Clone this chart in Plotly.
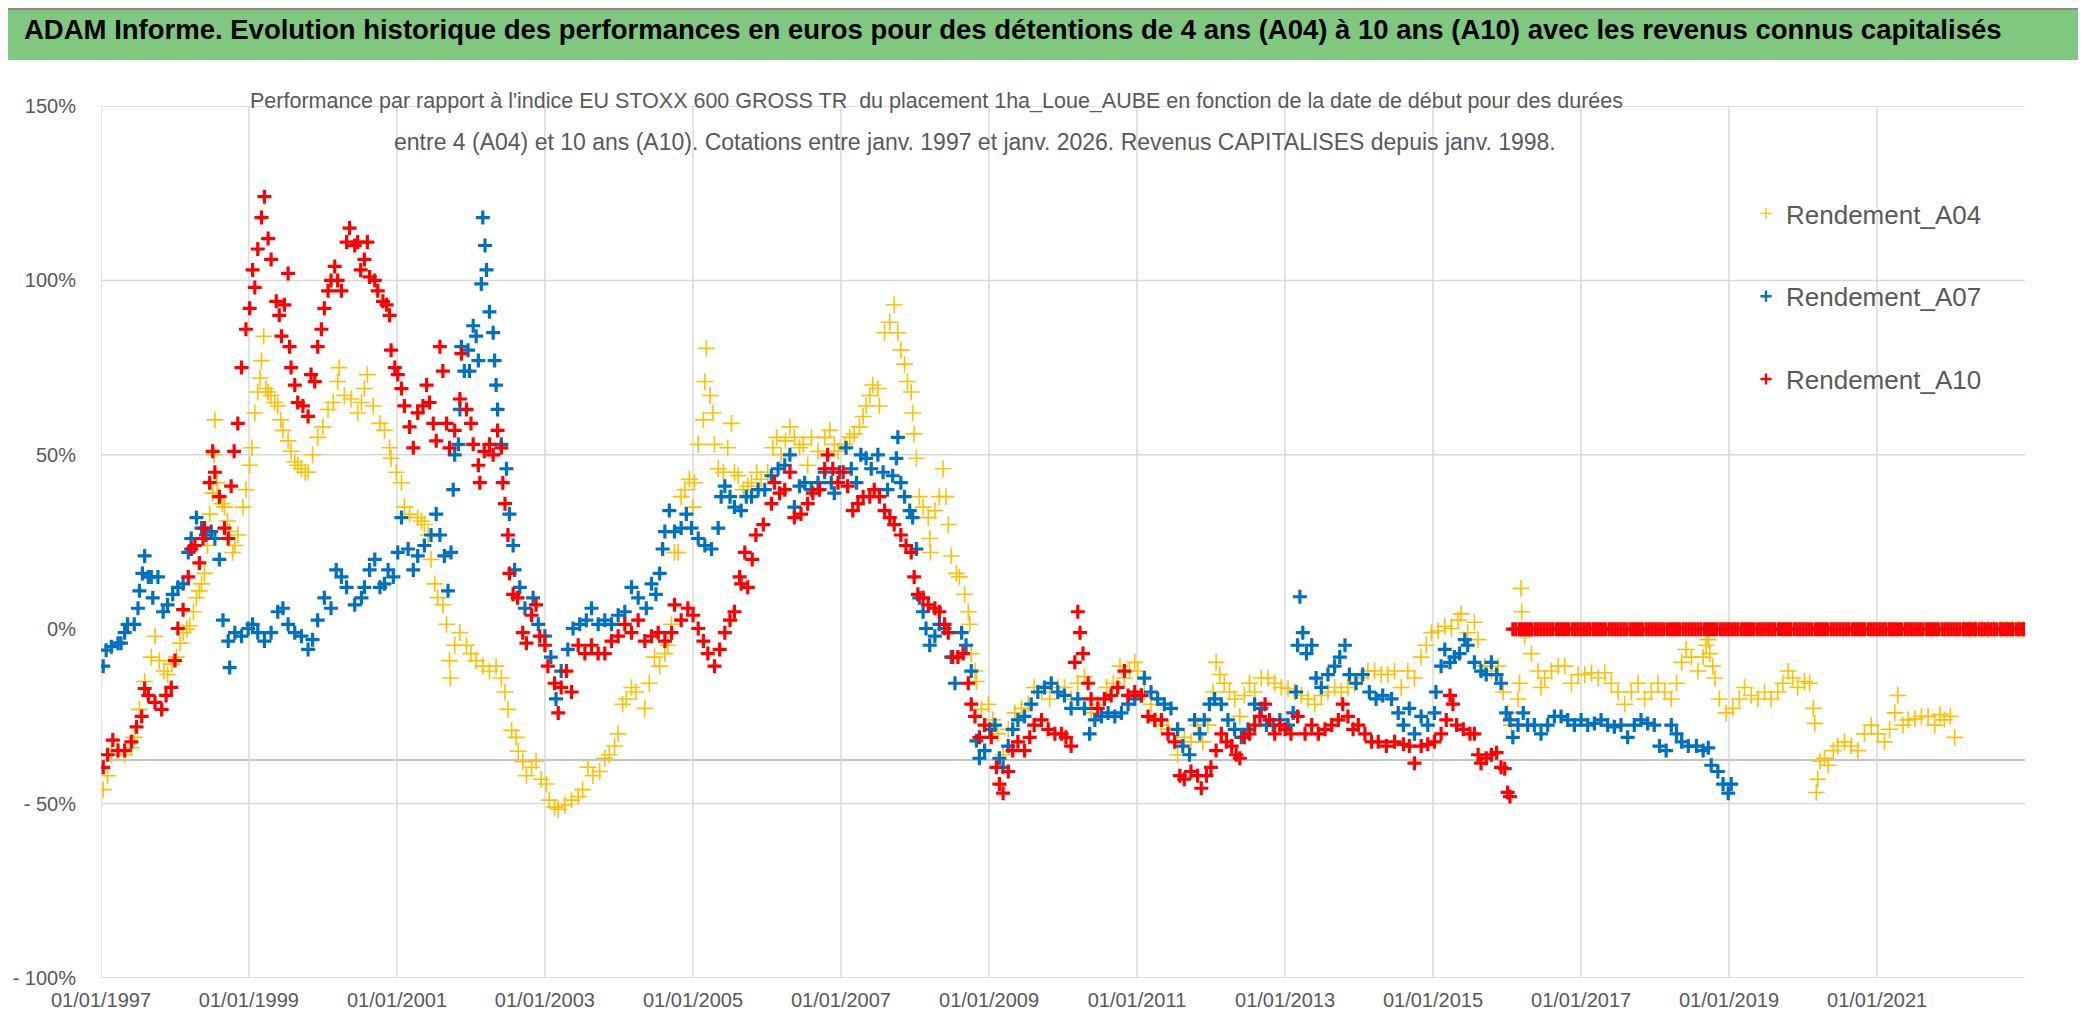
import pandas as pd
import plotly.graph_objects as go

# ---------------- data (decimal year, performance in %) ----------------
A04_YEARS = [1997.03,1997.09,1997.14,1997.23,1997.32,1997.41,1997.45,1997.52,1997.59,1997.68,1997.73,1997.79,1997.85,1997.9,1997.96,
 1998.02,1998.07,1998.11,1998.16,1998.2,1998.25,1998.29,1998.33,1998.36,1998.4,1998.44,1998.47,1998.51,1998.53,1998.54,1998.57,1998.6,
 1998.64,1998.67,1998.71,1998.74,1998.78,1998.81,1998.85,1998.92,1998.96,1999.01,1999.04,1999.08,1999.12,1999.15,1999.17,1999.2,1999.23,
 1999.26,1999.3,1999.35,1999.39,1999.43,1999.46,1999.53,1999.57,1999.62,1999.66,1999.71,1999.76,1999.8,1999.86,1999.93,2000.0,2000.07,
 2000.14,2000.2,2000.22,2000.29,2000.38,2000.47,2000.52,2000.56,2000.6,2000.68,2000.77,2000.83,2000.9,2000.92,2000.99,2001.06,2001.1,
 2001.17,2001.28,2001.33,2001.37,2001.42,2001.46,2001.51,2001.55,2001.62,2001.67,2001.71,2001.72,2001.78,2001.85,2001.94,2002.0,2002.07,
 2002.16,2002.25,2002.34,2002.41,2002.46,2002.5,2002.55,2002.61,2002.64,2002.7,2002.75,2002.82,2002.88,2002.95,2003.02,2003.06,2003.13,
 2003.18,2003.27,2003.36,2003.45,2003.51,2003.58,2003.65,2003.74,2003.81,2003.87,2003.94,2003.99,2004.05,2004.1,2004.17,2004.23,2004.35,
 2004.41,2004.48,2004.55,2004.62,2004.66,2004.71,2004.75,2004.8,2004.84,2004.89,2004.95,2005.0,2005.02,2005.07,2005.14,2005.16,2005.18,
 2005.23,2005.27,2005.29,2005.34,2005.41,2005.47,2005.52,2005.56,2005.61,2005.68,2005.74,2005.79,2005.86,2005.92,2006.01,2006.08,2006.13,
 2006.19,2006.25,2006.31,2006.37,2006.44,2006.49,2006.55,2006.6,2006.69,2006.78,2006.85,2006.91,2006.96,2007.05,2007.12,2007.18,2007.25,
 2007.3,2007.34,2007.39,2007.43,2007.5,2007.52,2007.59,2007.66,2007.72,2007.77,2007.81,2007.86,2007.9,2007.95,2007.97,2007.99,2008.02,
 2008.06,2008.11,2008.18,2008.2,2008.21,2008.27,2008.33,2008.38,2008.42,2008.45,2008.49,2008.56,2008.6,2008.67,2008.72,2008.74,2008.76,
 2008.81,2008.83,2008.9,2008.99,2009.05,2009.12,2009.19,2009.26,2009.35,2009.44,2009.53,2009.61,2009.71,2009.82,2009.93,2010.02,2010.11,
 2010.2,2010.29,2010.38,2010.47,2010.59,2010.68,2010.77,2010.83,2010.9,2010.97,2011.01,2011.1,2011.19,2011.26,2011.33,2011.42,2011.55,
 2011.64,2011.73,2011.82,2011.89,2011.96,2012.03,2012.07,2012.12,2012.18,2012.25,2012.32,2012.39,2012.45,2012.52,2012.59,2012.68,2012.77,
 2012.86,2012.95,2013.04,2013.13,2013.22,2013.31,2013.4,2013.49,2013.58,2013.67,2013.76,2013.85,2013.94,2014.03,2014.12,2014.21,2014.3,
 2014.39,2014.48,2014.57,2014.66,2014.75,2014.84,2014.91,2014.98,2015.07,2015.16,2015.25,2015.34,2015.38,2015.47,2015.56,2015.61,2015.7,
 2015.79,2015.88,2015.95,2016.01,2016.06,2016.15,2016.17,2016.19,2016.2,2016.24,2016.33,2016.42,2016.46,2016.51,2016.6,2016.69,2016.78,
 2016.87,2016.96,2017.05,2017.14,2017.23,2017.32,2017.41,2017.5,2017.59,2017.68,2017.77,2017.86,2017.95,2018.04,2018.13,2018.22,2018.29,
 2018.36,2018.42,2018.49,2018.58,2018.65,2018.69,2018.72,2018.74,2018.78,2018.81,2018.87,2018.96,2019.05,2019.14,2019.21,2019.3,2019.39,
 2019.48,2019.57,2019.66,2019.73,2019.8,2019.86,2019.93,2020.02,2020.09,2020.14,2020.16,2020.18,2020.2,2020.23,2020.29,2020.34,2020.41,
 2020.47,2020.56,2020.65,2020.74,2020.83,2020.92,2021.01,2021.1,2021.17,2021.24,2021.28,2021.35,2021.42,2021.51,2021.6,2021.69,2021.78,
 2021.85,2021.91,2021.99,2022.05,
 2022.17,2022.25,2022.33,2022.42,2022.5,2022.58,2022.67,2022.75,2022.83,2022.92,2022.98]
A04_VALUES = [-46,-42,-36,-35,-36,-34,-31,-23,-15,-8,-2,-9,-12,-13,-10,
 -8,-4,-1,0,1,5,9,11,13,16,24,33,39,50,60,42,38,
 36,35,31,28,22,24,27,35,40,47,52,62,68,72,77,84,69,
 68,67,65,64,60,57,54,51,48,47,46,45,45,50,55,58,63,
 65,71,75,67,66,62,65,69,73,64,59,57,52,49,45,42,35,
 33,32,31,30,27,20,13,9,7,1.4,-9,-14,-4.6,-1,-4.6,-7,-9,
 -10.6,-12,-10.6,-14,-18,-23,-29,-31,-35,-38,-42,-39.6,-37.8,-43,-44.4,-49,-51,
 -51.6,-50.4,-49,-48,-46,-39.6,-42,-40.8,-37,-36,-33.5,-30,-21.5,-20,-16.7,-18,-22.7,
 -15.5,-8,-10.6,-7,-4.6,1.4,22,22,38,40,43,35,42,53,60,71,80.5,
 67,62,53,46,45,52,59,45,44,40,41,42,45,43,45,52,55,
 50,54,58,55,52,53,47,55,51,55,57,53,51,53,55,56,58,
 61,64,67,70,69,64,85,88,93,85,80,76,71,68,62,56,49,
 38,35,32,26,22,34,38,46,38,30,21,16,15,10,5,1.4,-7,
 -12,-15,-23,-21.5,-26,-30,-36,-28.7,-24,-22.7,-21.5,-16.7,-18,-20,-16.7,-16.7,-20,
 -15.5,-13.6,-24,-21.5,-16.7,-15.5,-10.6,-14,-12,-9.5,-12,-18,-21.5,-26,-27.5,-28.7,-36,
 -31,-32.3,-27.5,-32.3,-27.5,-18,-9.5,-13,-15.5,-18,-20,-25,-19,-15.5,-18,-14,-14,
 -15.5,-16.7,-17,-18,-19,-20,-21.5,-19,-18,-16.7,-18,-16.7,-15.5,-14,-12,-12,-13,
 -13,-12,-16.7,-12,-14,-8,-4.6,-1,-0.5,0.8,0.2,2.6,4.4,-1,2,-3,-10.6,
 -12,-10.6,-18,-24,-27.5,-20,-15.5,11.7,5,-2,-7,-12,-16.7,-14,-12,-10.6,-10.6,
 -15.5,-13,-13,-12.5,-14,-12.5,-15.5,-18,-21.5,-18,-15.5,-20,-18,-15.5,-18,-20,-15.5,
 -9.5,-5.8,-8,-12,-8,-4.6,-3,-7,-10.6,-14,-20,-24,-22.7,-20,-16.7,-19,-20,
 -18,-20,-18,-15.5,-12,-14,-16.7,-15,-15.5,-22.7,-27,-46.8,-43,-37.8,-37,-39,-34.8,
 -33.5,-32.3,-33.5,-34.8,-30,-27.5,-30,-32.3,-28.7,-24,-19,-27.5,-26,-25.7,-25,-25,-27.5,
 -24.5,-26,-25,-31,
 0,0,0,0,0,0,0,0,0,0,0]

A07_YEARS = [1997.03,1997.07,1997.14,1997.23,1997.27,1997.32,1997.36,1997.45,1997.5,1997.52,1997.56,1997.59,1997.64,1997.68,1997.7,
 1997.77,1997.84,1997.9,1997.97,1998.04,1998.11,1998.18,1998.22,1998.29,1998.36,1998.42,1998.49,1998.54,1998.6,1998.65,1998.72,1998.74,
 1998.81,1998.9,1998.99,1999.05,1999.12,1999.21,1999.3,1999.39,1999.46,1999.53,1999.62,1999.71,1999.8,1999.86,1999.93,2000.02,2000.11,
 2000.18,2000.25,2000.32,2000.43,2000.52,2000.56,2000.63,2000.7,2000.77,2000.83,2000.88,2000.95,2001.01,2001.06,2001.15,2001.22,2001.28,
 2001.37,2001.46,2001.53,2001.58,2001.64,2001.69,2001.73,2001.76,2001.78,2001.83,2001.85,2001.87,2001.91,2001.96,2001.98,2002.03,2002.07,
 2002.1,2002.14,2002.16,2002.19,2002.21,2002.25,2002.3,2002.32,2002.34,2002.36,2002.41,2002.48,2002.52,2002.57,2002.59,2002.66,2002.73,
 2002.84,2002.91,2003.0,2003.08,2003.15,2003.22,2003.31,2003.38,2003.47,2003.56,2003.63,2003.72,2003.81,2003.9,2003.99,2004.08,2004.17,
 2004.26,2004.37,2004.44,2004.5,2004.55,2004.59,2004.62,2004.68,2004.75,2004.84,2004.91,2004.98,2005.07,2005.16,2005.25,2005.34,2005.38,
 2005.43,2005.5,2005.56,2005.65,2005.72,2005.79,2005.88,2005.97,2006.06,2006.15,2006.24,2006.31,2006.37,2006.44,2006.51,2006.6,2006.69,
 2006.78,2006.87,2006.91,2006.98,2007.07,2007.14,2007.21,2007.27,2007.34,2007.41,2007.5,2007.57,2007.63,2007.7,2007.75,2007.77,2007.81,
 2007.86,2007.93,2007.97,2008.02,2008.06,2008.11,2008.15,2008.2,2008.27,2008.33,2008.4,2008.49,2008.54,2008.63,2008.69,2008.76,2008.83,
 2008.87,2008.94,2009.01,2009.08,2009.14,2009.19,2009.26,2009.32,2009.39,2009.48,2009.57,2009.66,2009.75,2009.84,2009.93,2010.02,2010.11,
 2010.2,2010.29,2010.36,2010.43,2010.52,2010.61,2010.7,2010.79,2010.88,2010.97,2011.06,2011.1,2011.19,2011.28,2011.37,2011.46,2011.55,
 2011.62,2011.71,2011.78,2011.85,2011.91,2011.98,2012.05,2012.14,2012.23,2012.32,2012.41,2012.5,2012.59,2012.68,2012.75,2012.84,2012.93,
 2013.04,2013.11,2013.15,2013.17,2013.2,2013.24,2013.29,2013.36,2013.42,2013.49,2013.58,2013.67,2013.74,2013.81,2013.87,2013.96,2014.05,
 2014.14,2014.23,2014.32,2014.44,2014.53,2014.6,2014.68,2014.75,2014.84,2014.93,2015.02,2015.04,2015.11,2015.16,2015.23,2015.29,2015.36,
 2015.43,2015.47,2015.56,2015.65,2015.72,2015.79,2015.86,2015.92,2015.99,2016.04,2016.08,2016.15,2016.22,2016.28,2016.37,2016.46,2016.55,
 2016.64,2016.73,2016.82,2016.91,2017.0,2017.09,2017.18,2017.27,2017.36,2017.45,2017.54,2017.63,2017.72,2017.81,2017.9,2017.99,2018.06,
 2018.15,2018.22,2018.29,2018.36,2018.45,2018.56,2018.65,2018.72,2018.76,2018.85,2018.92,2018.99,2019.03]
A07_VALUES = [-10.6,-6,-5,-4,-4,-1,1.4,1.4,6,11,16,21,15,15,9,
 15,5,7,10,12,13,22,26,32,29,27,28,26,20,2.6,-3.4,-11,
 -1,-2,0.2,1.4,-1,-3.4,-1,5,6,1.4,-1,-2,-5.8,-3,2.6,9,6,
 17,15,12,7,9,12,17,20,12,13,17,15,22,32,23,17,21,
 24,27,33,27,21,11,22,40,50,53,63,81,74,80,74,87,84,
 77,99,118,110,103,91,85,77,70,63,53,46,33,24,17,12,6,
 9,1.4,-2,-8,-20,-12,-5.8,0.2,1.4,2.6,6,1.4,2.6,1.4,4,5,12,
 9,6,13,10,16,23,28,34,28,29,33,29,26,24,23,29,38,
 41,38,35,34,38,38,40,40,44,46,47,50,35,41,42,40,42,
 45,42,39,45,52,46,42,50,49,46,50,45,40,44,49,55,42,
 38,34,32,23,9,5,0.2,-4.6,-2,1.4,0.2,-8,-15.5,-1,-4.6,-12,-32,
 -37,-34.8,-28.7,-27.5,-37,-39.6,-33.5,-28.7,-26,-25,-21.5,-18,-16.7,-15.5,-18,-19,-22.7,
 -20,-22.7,-30,-26,-25,-24,-25,-24,-21.5,-20,-19,-14,-18,-20,-21.5,-22.7,-28.7,
 -33.5,-36,-26,-30,-26,-21.5,-20,-21.5,-26,-28.7,-31,-28.7,-21.5,-22.7,-27.5,-27.5,-26,
 -27.5,-24,-18,-4.6,9.3,-1,-7,-4.6,-14,-16.7,-13,-10.6,-8,-4.6,-13,-15.5,-13,
 -18,-20,-19,-20,-24,-27.5,-22.7,-30,-25,-27.5,-24,-18,-10.6,-5.8,-9.5,-8,-7,
 -3,-4.6,-9.5,-12,-13,-9.5,-13,-15.5,-24,-26,-31,-27.5,-24,-27.5,-27.5,-30,-27.5,
 -25,-25,-26,-27.5,-26,-27.5,-27,-26,-27.5,-28,-27.5,-31,-27.5,-26,-27,-27.5,-33.5,
 -34.8,-27.5,-30,-32.3,-33.5,-33.5,-34.8,-34,-39,-40.8,-44.4,-47,-44.4]

A10_YEARS = [1997.03,1997.09,1997.16,1997.23,1997.32,1997.41,1997.48,1997.55,1997.59,1997.64,1997.73,1997.82,1997.88,1997.95,1998.0,
 1998.04,1998.11,1998.18,1998.22,1998.27,1998.33,1998.38,1998.4,1998.47,1998.51,1998.54,1998.6,1998.67,1998.72,1998.76,1998.8,1998.85,
 1998.9,1998.96,1999.01,1999.05,1999.08,1999.12,1999.17,1999.21,1999.26,1999.3,1999.37,1999.41,1999.44,1999.48,1999.53,1999.55,1999.57,
 1999.62,1999.66,1999.73,1999.8,1999.84,1999.89,1999.93,1999.98,2000.02,2000.07,2000.11,2000.16,2000.2,2000.25,2000.32,2000.36,2000.43,
 2000.47,2000.51,2000.56,2000.6,2000.63,2000.7,2000.74,2000.81,2000.86,2000.9,2000.92,2000.97,2001.01,2001.06,2001.1,2001.17,2001.22,
 2001.28,2001.35,2001.4,2001.44,2001.49,2001.53,2001.58,2001.62,2001.67,2001.71,2001.78,2001.85,2001.87,2001.94,2002.0,2002.03,2002.1,
 2002.12,2002.18,2002.25,2002.3,2002.36,2002.41,2002.43,2002.46,2002.5,2002.52,2002.57,2002.63,2002.7,2002.75,2002.82,2002.88,2002.93,
 2003.0,2003.04,2003.13,2003.18,2003.22,2003.29,2003.36,2003.45,2003.54,2003.63,2003.72,2003.81,2003.9,2003.99,2004.08,2004.17,2004.26,
 2004.35,2004.44,2004.53,2004.62,2004.71,2004.75,2004.84,2004.93,2005.0,2005.07,2005.14,2005.2,2005.29,2005.36,2005.43,2005.5,2005.56,
 2005.63,2005.65,2005.7,2005.74,2005.8,2005.85,2005.95,2006.06,2006.1,2006.17,2006.24,2006.31,2006.37,2006.46,2006.55,2006.62,2006.71,
 2006.78,2006.82,2006.89,2006.96,2007.03,2007.09,2007.16,2007.23,2007.3,2007.39,2007.45,2007.52,2007.59,2007.66,2007.72,2007.81,2007.88,
 2007.95,2007.99,2008.04,2008.11,2008.18,2008.27,2008.33,2008.4,2008.45,2008.51,2008.58,2008.65,2008.72,2008.76,2008.81,2008.87,2008.94,
 2009.03,2009.1,2009.14,2009.19,2009.26,2009.32,2009.39,2009.48,2009.55,2009.61,2009.71,2009.8,2009.89,2009.98,2010.04,2010.11,2010.16,
 2010.2,2010.23,2010.27,2010.34,2010.38,2010.47,2010.56,2010.65,2010.74,2010.83,2010.88,2010.97,2011.06,2011.15,2011.24,2011.33,2011.42,
 2011.51,2011.58,2011.64,2011.73,2011.82,2011.87,2011.94,2012.0,2012.07,2012.14,2012.21,2012.28,2012.34,2012.39,2012.45,2012.52,2012.59,
 2012.66,2012.73,2012.79,2012.86,2012.93,2013.0,2013.08,2013.17,2013.27,2013.36,2013.45,2013.54,2013.63,2013.72,2013.78,2013.85,2013.92,
 2013.99,2014.08,2014.17,2014.26,2014.37,2014.48,2014.6,2014.68,2014.75,2014.84,2014.93,2015.02,2015.11,2015.18,2015.23,2015.27,2015.32,
 2015.41,2015.5,2015.56,2015.61,2015.65,2015.72,2015.79,2015.86,2015.92,2015.97,2016.01,2016.04]
A10_VALUES = [-39.6,-36,-31.8,-34.8,-34.8,-32.3,-28,-25,-17,-19,-21,-23,-19,-16.7,-9,
 0.2,5.6,15,23,24,19,26,29,42,51,45,38,29,26,41,51,59,
 75,86,92,103,98,109,118,124,112,106,94,90,84,93,102,81,75,
 70,65,64,61,73,71,81,86,92,97,100,104,100,97,111,115,110,
 111,103,106,111,101,100,97,94,93,90,80,75,73,69,64,58,52,
 62,64,70,65,59,54,81,74,59,52,57,66,79,63,59,53,47,
 42,51,53,50,57,52,42,36,27,16,10,9,-1,-4,4,7,-2,
 -4.6,-10.6,-15.5,-24,-16.7,-12,-18,-4.6,-7,-4.6,-7,-7,-3.4,-2,1.4,-1,2.6,
 -3.4,-2,-1,-3.4,-1,7,2.6,6,4,0.2,-3.4,-7,-10.6,-5.8,-1,2.6,5,
 15,13,22,12,20,27,30,36,42,39,40,45,32,33,36,39,40,
 46,50,46,42,45,41,34,36,38,38,40,38,34,32,30,27,24,
 22,15,10,9,7,6,5,1.4,-1,-8,-8,-7,-15.5,-21.5,-25,-31,-27.5,
 -31,-39.6,-44.4,-47,-40.8,-34.8,-32.3,-34.8,-31,-27.5,-26,-28.7,-30,-30,-31,-33.5,-9.5,
 5,-1,-7,-15.5,-20,-22.7,-20,-19,-16.7,-12,-19,-18,-19,-25,-26,-26,-30,
 -32.3,-42,-43,-40.8,-42,-45.6,-42,-39.6,-34.8,-30,-32.3,-33.5,-36,-37,-31,-30,-27.5,
 -25,-21.5,-26,-30,-27.5,-28.7,-30,-25,-30,-27.5,-30,-28.7,-27.5,-26,-21.5,-25,-28.7,
 -27.5,-30,-32.3,-32.3,-33.5,-32.3,-33,-33.5,-38.4,-33.5,-33,-32.3,-30,-26,-19,-21.5,-27.5,
 -28.7,-30,-30,-36,-38.4,-37,-36,-35.4,-39.6,-40,-46.8,-48]

# A10 values shown as 0 % from 2016 onwards (no 10-year window available)
A10_ZERO_YEARS = [2016.08,2016.12,2016.17,2016.21,2016.25,2016.29,2016.33,2016.38,2016.42,2016.46,2016.5,2016.54,2016.58,
 2016.62,2016.67,2016.71,2016.75,2016.79,2016.83,2016.88,2016.92,2016.96,
 2017.0,2017.04,2017.08,2017.12,2017.17,2017.21,2017.25,2017.29,2017.33,2017.38,2017.42,2017.46,
 2017.5,2017.54,2017.58,2017.62,2017.67,2017.71,2017.75,2017.79,2017.83,2017.88,2017.92,2017.96,
 2018.0,2018.04,2018.08,2018.12,2018.17,2018.21,2018.25,2018.29,2018.33,2018.38,2018.42,2018.46,
 2018.5,2018.54,2018.58,2018.62,2018.67,2018.71,2018.75,2018.79,2018.83,2018.88,2018.92,2018.96,
 2019.0,2019.04,2019.08,2019.12,2019.17,2019.21,2019.25,2019.29,2019.33,2019.38,2019.42,2019.46,
 2019.5,2019.54,2019.58,2019.62,2019.67,2019.71,2019.75,2019.79,2019.83,2019.88,2019.92,2019.96,
 2020.0,2020.04,2020.08,2020.12,2020.17,2020.21,2020.25,2020.29,2020.33,2020.38,2020.42,2020.46,
 2020.5,2020.54,2020.58,2020.62,2020.67,2020.71,2020.75,2020.79,2020.83,2020.88,2020.92,2020.96,
 2021.0,2021.04,2021.08,2021.12,2021.17,2021.21,2021.25,2021.29,2021.33,2021.38,2021.42,2021.46,
 2021.5,2021.54,2021.58,2021.62,2021.67,2021.71,2021.75,2021.79,2021.83,2021.88,2021.92,2021.96,
 2022.0,2022.04,2022.08,2022.12,2022.17,2022.21,2022.25,2022.29,2022.33,2022.38,2022.42,2022.46,
 2022.5,2022.54,2022.58,2022.62,2022.67,2022.71,2022.75,2022.79,2022.83,2022.88,2022.92,2022.96,2022.99]
A10_ZERO_VALUES = [0,0,0,0,0,0,0,0,0,0,0,0,0,0,0,0,0,0,0,0,0,0,
 0,0,0,0,0,0,0,0,0,0,0,0,0,0,0,0,0,0,0,0,0,0,0,0,
 0,0,0,0,0,0,0,0,0,0,0,0,0,0,0,0,0,0,0,0,0,0,0,0,
 0,0,0,0,0,0,0,0,0,0,0,0,0,0,0,0,0,0,0,0,0,0,0,0,
 0,0,0,0,0,0,0,0,0,0,0,0,0,0,0,0,0,0,0,0,0,0,0,0,
 0,0,0,0,0,0,0,0,0,0,0,0,0,0,0,0,0,0,0,0,0,0,0,0,
 0,0,0,0,0,0,0,0,0,0,0,0,0,0,0,0,0,0,0,0,0,0,0,0,0]

SERIES_NAMES = ["Rendement_A04", "Rendement_A07", "Rendement_A10"]
X_TICKS = ["1997-01-01", "1999-01-01", "2001-01-01", "2003-01-01", "2005-01-01", "2007-01-01",
           "2009-01-01", "2011-01-01", "2013-01-01", "2015-01-01", "2017-01-01", "2019-01-01", "2021-01-01"]
Y_TICKS = [-100, -50, 0, 50, 100, 150]
Y_TICK_TEXT = ["- 100%", "- 50%", "0%", "50%", "100%", "150%"]
Y_GRID = [-100, -50, 50, 100, 150]
X_RANGE = ["1997-01-01", "2023-01-01"]

TITLE = ("ADAM Informe. Evolution historique des performances en euros pour des détentions "
         "de 4 ans (A04) à 10 ans (A10) avec les revenus connus capitalisés")
SUB1 = ("Performance par rapport à l'indice EU STOXX 600 GROSS TR  du placement 1ha_Loue_AUBE "
        "en fonction de la date de début pour des durées")
SUB2 = ("entre 4 (A04) et 10 ans (A10). Cotations entre janv. 1997 et janv. 2026. "
        "Revenus CAPITALISES depuis janv. 1998.")


def to_dates(years):
    out = []
    for y in years:
        yr = int(y)
        start = pd.Timestamp(year=yr, month=1, day=1)
        end = pd.Timestamp(year=yr + 1, month=1, day=1)
        out.append(start + (end - start) * (y - yr))
    return out


# ---------------- figure ----------------
W, H = 2086, 1031
ML, MR, MT, MB = 93, 69, 98, 61
PW, PH = W - ML - MR, H - MT - MB


def px(xp):
    return (xp - ML) / PW


def py(yp):
    return (H - MB - yp) / PH


FONT = "Liberation Sans Narrow, Arial Narrow, sans-serif"
GREY_TXT = "#595959"
COLORS = ["#FFC000", "#0070C0", "#FF0000"]

fig = go.Figure()
series = [
    (A04_YEARS, A04_VALUES, dict(size=12, lw=1.6)),
    (A07_YEARS, A07_VALUES, dict(size=10, lw=3.2)),
    (A10_YEARS + A10_ZERO_YEARS, A10_VALUES + A10_ZERO_VALUES, dict(size=10, lw=3.2)),
]
for name, col, (yrs, vals, st) in zip(SERIES_NAMES, COLORS, series):
    fig.add_trace(go.Scatter(
        x=to_dates(yrs), y=vals, mode="markers", name=name, showlegend=False,
        marker=dict(symbol="cross-thin", size=st["size"], color=col,
                    line=dict(color=col, width=st["lw"])),
    ))
# legend entries (small markers like the reference legend)
for i, (name, col) in enumerate(zip(SERIES_NAMES, COLORS)):
    fig.add_trace(go.Scatter(
        x=[None], y=[None], mode="markers", name=name, legendgroup="g%d" % i, showlegend=True,
        marker=dict(symbol="cross-thin", size=8, color=col,
                    line=dict(color=col, width=1.4 if i == 0 else 2.4)),
    ))

shapes = []
for yv in Y_GRID:
    shapes.append(dict(type="line", xref="x", yref="y", x0=X_RANGE[0], x1=X_RANGE[1], y0=yv, y1=yv,
                       line=dict(color="#D9D9D9", width=1.5), layer="below"))
shapes.append(dict(type="line", xref="x", yref="y", x0=X_RANGE[0], x1=X_RANGE[1], y0=-37.5, y1=-37.5,
                   line=dict(color="#C4C4C4", width=1.8), layer="below"))
for xv in X_TICKS:
    shapes.append(dict(type="line", xref="x", yref="y", x0=xv, x1=xv, y0=-100, y1=150,
                       line=dict(color="#D9D9D9", width=1.5), layer="below"))
# white boxes behind the subtitle and the legend (hide the grid)
shapes.append(dict(type="rect", xref="paper", yref="paper", x0=px(245), x1=px(1665), y0=py(158), y1=py(70),
                   fillcolor="white", line=dict(width=0), layer="below"))
shapes.append(dict(type="rect", xref="paper", yref="paper", x0=px(1703), x1=px(2016), y0=py(422), y1=py(180),
                   fillcolor="white", line=dict(width=0), layer="below"))
# title banner
shapes.append(dict(type="rect", xref="paper", yref="paper", x0=px(0), x1=px(W), y0=py(52), y1=py(1),
                   fillcolor="#80C77F", line=dict(width=0), layer="below"))
shapes.append(dict(type="line", xref="paper", yref="paper", x0=px(0), x1=px(W), y0=py(1), y1=py(1),
                   line=dict(color="#8C8C8C", width=2), layer="above"))

annotations = [
    dict(text="<b>" + TITLE + "</b>", xref="paper", yref="paper", x=px(1005), y=py(22),
         xanchor="center", yanchor="middle", showarrow=False,
         font=dict(family=FONT, size=27.5, color="black")),
    dict(text=SUB1, xref="paper", yref="paper", x=px(240), y=py(93), xanchor="left", yanchor="middle",
         showarrow=False, font=dict(family=FONT, size=21.5, color=GREY_TXT)),
    dict(text=SUB2, xref="paper", yref="paper", x=px(384), y=py(134), xanchor="left", yanchor="middle",
         showarrow=False, font=dict(family=FONT, size=23, color=GREY_TXT)),
]

fig.update_layout(
    width=W, height=H,
    margin=dict(l=ML, r=MR, t=MT, b=MB, pad=0, autoexpand=False),
    paper_bgcolor="white", plot_bgcolor="white",
    shapes=shapes, annotations=annotations,
    showlegend=True,
    legend=dict(x=px(1738), y=py(182), xanchor="left", yanchor="top", bgcolor="rgba(0,0,0,0)",
                font=dict(family=FONT, size=26, color=GREY_TXT), tracegroupgap=46,
                itemsizing="trace"),
    xaxis=dict(type="date", range=X_RANGE, tickvals=X_TICKS, tickformat="%d/%m/%Y",
               showgrid=False, zeroline=False, showline=False, ticks="", automargin=False,
               tickfont=dict(family=FONT, size=20, color=GREY_TXT), ticklabelstandoff=8),
    yaxis=dict(range=[-100, 150], tickvals=Y_TICKS, ticktext=Y_TICK_TEXT, automargin=False,
               showgrid=False, zeroline=False, showline=False,
               ticks="outside", ticklen=20, tickcolor="rgba(0,0,0,0)",
               tickfont=dict(family=FONT, size=20, color=GREY_TXT)),
)

fig.write_html("out.html")
